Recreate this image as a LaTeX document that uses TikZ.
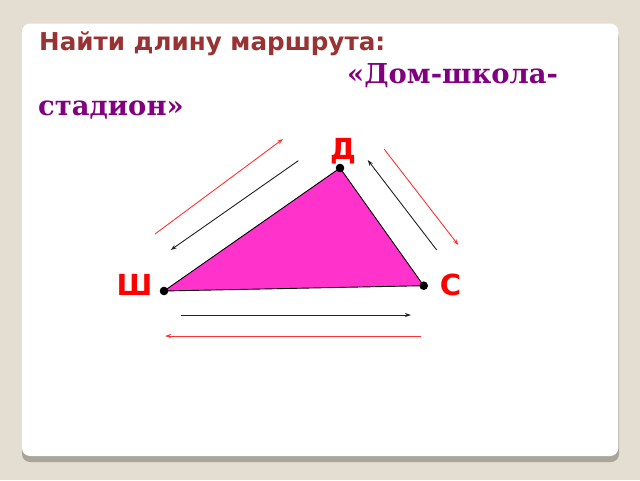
\documentclass[tikz,border=0pt]{standalone}
\usepackage{fontspec}
\setmainfont{DejaVu Sans}
\newfontfamily\serifbold{DejaVu Serif}
\usetikzlibrary{arrows.meta}
\definecolor{bgc}{HTML}{E4DDD2}
\definecolor{shadowc}{HTML}{A9A599}
\definecolor{titlec}{HTML}{993333}
\definecolor{purplec}{HTML}{800080}
\definecolor{magc}{HTML}{FF33CC}
\definecolor{redc}{HTML}{FF3333}
\definecolor{darkc}{HTML}{222222}
\tikzset{
  txt/.style={inner sep=0pt, anchor=base west},
  vlabel/.style={inner sep=0pt, anchor=base, text=red, font=\fontsize{29}{30}\selectfont\bfseries},
  vdot/.style={circle, fill=black, inner sep=0pt, minimum size=8.6pt},
  redarrow/.style={draw=redc, line width=0.9pt, -{Stealth[length=6pt,width=4pt]}},
  blackarrow/.style={draw=darkc, line width=0.9pt, -{Stealth[length=6pt,width=4pt]}}
}
\begin{document}
\begin{tikzpicture}[x=1pt,y=-1pt]
\useasboundingbox (0,0) rectangle (640,480);
\fill[bgc] (0,0) rectangle (640,480);
\fill[shadowc, rounded corners=8pt] (22,30) rectangle (619,462);
\fill[white, rounded corners=8pt] (22,23.5) rectangle (618.3,456);
% title
\node[txt, text=titlec, font=\fontsize{24.6}{26}\selectfont\bfseries] (t1) at (39,50) {Найти длину маршрута:};
\node[txt, text=purplec, font=\serifbold\fontsize{27.4}{30}\selectfont\bfseries] (t2) at (347,83) {«Дом-школа-};
\node[txt, text=purplec, font=\serifbold\fontsize{27.4}{30}\selectfont\bfseries] (t3) at (38,115.7) {стадион»};
% vertices
\coordinate (D) at (340,168);
\coordinate (Sh) at (164,291);
\coordinate (S) at (423.7,285.7);
\draw[fill=magc, draw=black, line width=0.9pt] (D) -- (S) -- (Sh) -- cycle;
\node[vdot] (dD) at (D) {};
\node[vdot] (dSh) at (Sh) {};
\node[vdot] (dS) at (S) {};
\node[vlabel] (lD) at (343,159) {Д};
\node[vlabel] (lSh) at (134.5,295) {Ш};
\node[vlabel] (lS) at (450.5,295) {С};
% arrows
\coordinate (a1s) at (155,234); \coordinate (a1e) at (283,139);
\coordinate (a2s) at (298.3,160.7); \coordinate (a2e) at (170.7,250);
\coordinate (a3s) at (436.7,250); \coordinate (a3e) at (367.7,160);
\coordinate (a4s) at (384.3,149.3); \coordinate (a4e) at (458.3,245);
\coordinate (a5s) at (181,315); \coordinate (a5e) at (411,315);
\coordinate (a6s) at (421,336); \coordinate (a6e) at (165,336);
\draw[redarrow] (a1s) -- (a1e);
\draw[blackarrow] (a2s) -- (a2e);
\draw[blackarrow] (a3s) -- (a3e);
\draw[redarrow] (a4s) -- (a4e);
\draw[blackarrow] (a5s) -- (a5e);
\draw[redarrow] (a6s) -- (a6e);
\end{tikzpicture}
\end{document}
